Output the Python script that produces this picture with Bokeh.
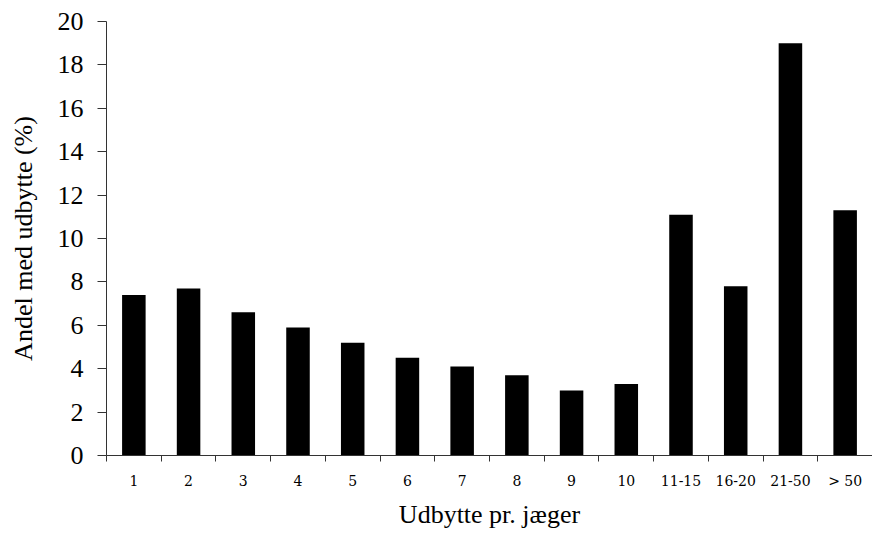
from bokeh.plotting import figure
from bokeh.models import FixedTicker, ColumnDataSource, Range1d
from bokeh.embed import file_html
from bokeh.resources import INLINE

categories = ["1", "2", "3", "4", "5", "6", "7", "8", "9", "10",
              "11-15", "16-20", "21-50", "> 50"]
values = [7.4, 7.7, 6.6, 5.9, 5.2, 4.5, 4.1, 3.7, 3.0, 3.3,
          11.1, 7.8, 19.0, 11.3]
y_ticks = [0, 2, 4, 6, 8, 10, 12, 14, 16, 18, 20]

n = len(categories)
centers = [i + 0.5 for i in range(n)]
source = ColumnDataSource(dict(x=centers, top=values, cat=categories))

SERIF = "Liberation Serif"

p = figure(width=872, height=538, output_backend="svg", toolbar_location=None,
           x_range=Range1d(0, n), y_range=Range1d(0, 20),
           min_border_left=106, min_border_right=0,
           min_border_top=21, min_border_bottom=83)

p.vbar(x="x", top="top", width=0.43, bottom=0, source=source,
       fill_color="black", line_color=None)

p.outline_line_color = None
p.xgrid.grid_line_color = None
p.ygrid.grid_line_color = None
p.background_fill_color = "white"
p.border_fill_color = "white"

# x axis
xa = p.xaxis[0]
xa.ticker = FixedTicker(ticks=centers, minor_ticks=list(range(n + 1)))
xa.major_label_overrides = {c: lab for c, lab in zip(centers, categories)}
xa.major_tick_out = 0
xa.major_tick_in = 0
xa.minor_tick_out = 6
xa.minor_tick_in = 0
xa.minor_tick_line_color = "#333333"
xa.axis_line_color = "#333333"
xa.major_label_text_font = "DejaVu Serif"
xa.major_label_text_font_size = "14px"
xa.major_label_text_color = "black"
xa.major_label_standoff = 11
xa.axis_label = "Udbytte pr. jæger"
xa.axis_label_text_font = SERIF
xa.axis_label_text_font_size = "26px"
xa.axis_label_text_font_style = "normal"
xa.axis_label_text_color = "black"
xa.axis_label_standoff = 8

# y axis
ya = p.yaxis[0]
ya.ticker = FixedTicker(ticks=y_ticks, minor_ticks=[])
ya.major_tick_out = 9
ya.major_tick_in = 0
ya.major_tick_line_color = "#333333"
ya.axis_line_color = "#333333"
ya.major_label_text_font = SERIF
ya.major_label_text_font_size = "26px"
ya.major_label_text_color = "black"
ya.major_label_standoff = 14
ya.axis_label = "Andel med udbytte (%)"
ya.axis_label_text_font = SERIF
ya.axis_label_text_font_size = "26px"
ya.axis_label_text_font_style = "normal"
ya.axis_label_text_color = "black"
ya.axis_label_standoff = 17

open("out.html", "w").write(file_html(p, INLINE))
